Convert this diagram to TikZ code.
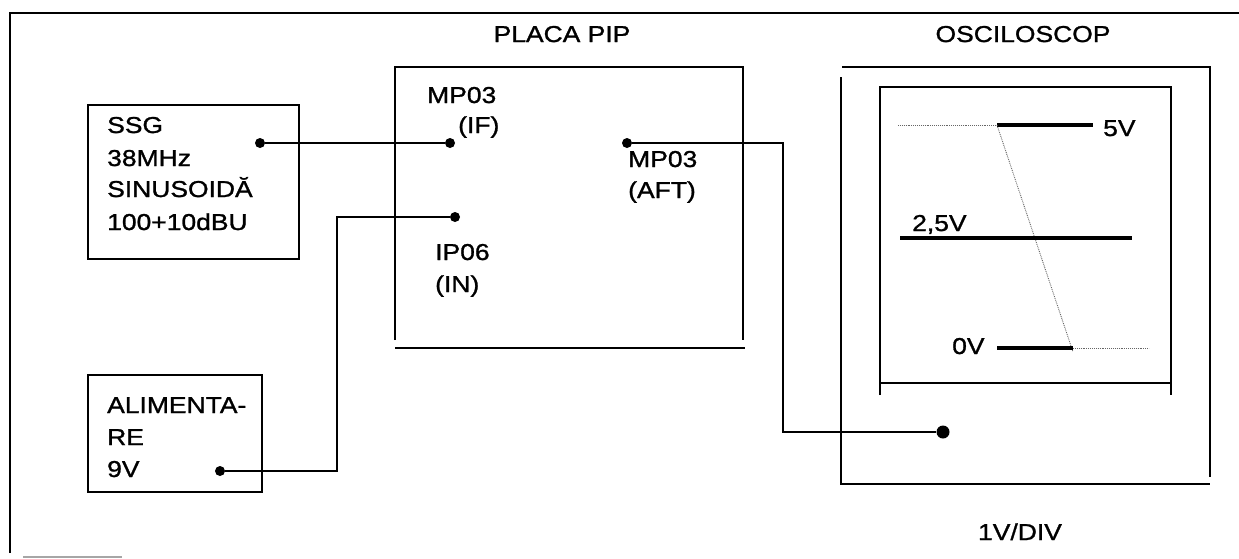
\documentclass[tikz,border=0pt]{standalone}
\usepackage{fontspec}
\setmainfont{Liberation Sans}[FakeStretch=1.15,FakeBold=1.2]
\begin{document}
\begin{tikzpicture}[x=1pt,y=-1pt,
  frame/.style={line width=2.2pt},
  wire/.style={line width=2.2pt},
  lbl/.style={font=\fontsize{23}{27}\selectfont, inner sep=0pt, anchor=base west},
  ttl/.style={font=\fontsize{23}{27}\selectfont, inner sep=0pt, anchor=base},
  pin/.style={circle, fill=black, inner sep=0pt, minimum size=10pt},
  trace/.style={line width=3.4pt},
  faint/.style={densely dotted, line width=0.9pt, black!60},
  box/.style={draw, frame, rectangle, inner sep=0pt, anchor=north west}]
\useasboundingbox (0,0) rectangle (1239,558);
% outer frame
\draw[frame] (10,553) -- (10,13) -- (1239,13);
\draw[line width=2pt, black!35] (23,557) -- (122,557);
% SSG
\node[box, minimum width=211pt, minimum height=154pt] (ssg) at (87,104) {};
\node[lbl] (ssg1) at (107,133) {SSG};
\node[lbl] (ssg2) at (107,166) {38MHz};
\node[lbl] (ssg3) at (107,197) {SINUSOIDĂ};
\node[lbl] (ssg4) at (107,230) {100+10dBU};
% ALIMENTARE
\node[box, minimum width=174pt, minimum height=117pt] (alim) at (87,374) {};
\node[lbl] (al1) at (107,413) {ALIMENTA-};
\node[lbl] (al2) at (107,445) {RE};
\node[lbl] (al3) at (107,477) {9V};
% PLACA PIP
\node[ttl] (pip) at (562,42) {PLACA PIP};
\draw[frame] (395,340) -- (395,67) -- (743,67) -- (743,340);
\draw[frame] (395,348) -- (745,348);
\node[lbl] (mp1) at (427,103) {MP03};
\node[lbl] (mp1b) at (458,133) {(IF)};
\node[lbl] (ip1) at (435,260) {IP06};
\node[lbl] (ip1b) at (435,292) {(IN)};
\node[lbl] (mp2) at (628,167) {MP03};
\node[lbl] (mp2b) at (628,198) {(AFT)};
% OSCILOSCOP
\node[ttl] (osc) at (1023,42) {OSCILOSCOP};
\node[ttl] (div) at (1020,540) {1V/DIV};
\draw[frame] (842,67) -- (1210,67) -- (1210,477);
\draw[frame] (841,77) -- (841,484) -- (1210,484);
\draw[frame] (880,395) -- (880,87) -- (1171,87) -- (1171,395);
\draw[frame] (880,383) -- (1171,383);
% traces
\draw[faint] (898,125) -- (997,125);
\draw[trace] (997,125) -- (1093,125);
\draw[faint] (997,125) -- (1073,352);
\draw[trace] (900,238) -- (1132,238);
\draw[trace] (997,348) -- (1073,348);
\draw[faint] (1073,348) -- (1149,348);
\node[lbl] (v5) at (1103,136) {5V};
\node[lbl] (v25) at (912,231) {2,5V};
\node[lbl] (v0) at (952,354) {0V};
% pins and wires
\node[pin] (ssgout) at (260,143) {};
\node[pin] (if) at (450,143) {};
\node[pin] (in) at (455,217) {};
\node[pin] (alout) at (220,471) {};
\node[pin] (aft) at (627,143) {};
\node[pin, minimum size=13pt] (scin) at (943,432) {};
\coordinate (c1) at (337,471);
\coordinate (c2) at (783,143);
\draw[wire] (ssgout) -- (if);
\draw[wire] (alout) -- (c1) |- (in);
\draw[wire] (aft) -- (c2) |- (scin);
\end{tikzpicture}
\end{document}
